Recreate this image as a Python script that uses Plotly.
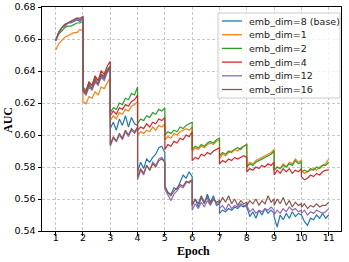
import plotly.graph_objects as go

epochs = list(range(1, 11))
steps_per_epoch = 10
tick_labels = [str(i) for i in range(1, 12)]

names = ["emb_dim=8 (base)", "emb_dim=1", "emb_dim=2", "emb_dim=4", "emb_dim=12", "emb_dim=16"]
colors = ["#1f77b4", "#ff7f0e", "#2ca02c", "#d62728", "#9467bd", "#8c564b"]

auc_base = [
    0.659, 0.664, 0.667, 0.668, 0.670, 0.670, 0.671, 0.672, 0.671, 0.673,
    0.628, 0.625, 0.631, 0.629, 0.634, 0.632, 0.637, 0.635, 0.640, 0.642,
    0.604, 0.608, 0.603, 0.610, 0.606, 0.612, 0.605, 0.611, 0.607, 0.606,
    0.577, 0.583, 0.579, 0.585, 0.583, 0.586, 0.588, 0.592, 0.593, 0.589,
    0.568, 0.564, 0.563, 0.567, 0.566, 0.571, 0.575, 0.573, 0.577, 0.574,
    0.556, 0.560, 0.555, 0.561, 0.557, 0.563, 0.558, 0.562, 0.556, 0.557,
    0.551, 0.553, 0.552, 0.554, 0.553, 0.555, 0.554, 0.556, 0.555, 0.557,
    0.555, 0.549, 0.552, 0.548, 0.553, 0.550, 0.554, 0.551, 0.553, 0.551,
    0.549, 0.5425, 0.550, 0.547, 0.551, 0.548, 0.552, 0.549, 0.551, 0.550,
    0.550, 0.546, 0.5435, 0.548, 0.547, 0.550, 0.548, 0.551, 0.548, 0.550,
]
auc_dim1 = [
    0.653, 0.657, 0.659, 0.661, 0.662, 0.663, 0.664, 0.664, 0.666, 0.665,
    0.621, 0.6195, 0.624, 0.623, 0.627, 0.625, 0.630, 0.629, 0.633, 0.636,
    0.609, 0.612, 0.610, 0.614, 0.613, 0.616, 0.615, 0.618, 0.619, 0.621,
    0.600, 0.602, 0.601, 0.603, 0.602, 0.605, 0.603, 0.606, 0.605, 0.607,
    0.597, 0.599, 0.598, 0.601, 0.600, 0.602, 0.603, 0.604, 0.603, 0.605,
    0.590, 0.592, 0.591, 0.593, 0.592, 0.594, 0.595, 0.594, 0.596, 0.597,
    0.585, 0.588, 0.587, 0.589, 0.590, 0.591, 0.590, 0.592, 0.593, 0.594,
    0.580, 0.583, 0.582, 0.584, 0.585, 0.586, 0.587, 0.588, 0.589, 0.591,
    0.578, 0.580, 0.579, 0.582, 0.580, 0.583, 0.582, 0.585, 0.583, 0.584,
    0.578, 0.576, 0.577, 0.578, 0.579, 0.578, 0.580, 0.581, 0.582, 0.585,
]
auc_dim2 = [
    0.659, 0.663, 0.665, 0.667, 0.668, 0.668, 0.669, 0.670, 0.670, 0.671,
    0.630, 0.628, 0.633, 0.631, 0.636, 0.634, 0.638, 0.637, 0.641, 0.643,
    0.614, 0.617, 0.616, 0.620, 0.619, 0.623, 0.622, 0.626, 0.625, 0.630,
    0.607, 0.610, 0.609, 0.612, 0.611, 0.614, 0.613, 0.616, 0.615, 0.617,
    0.600, 0.602, 0.601, 0.603, 0.602, 0.605, 0.604, 0.606, 0.607, 0.608,
    0.591, 0.593, 0.592, 0.594, 0.593, 0.595, 0.596, 0.595, 0.597, 0.598,
    0.587, 0.589, 0.588, 0.590, 0.589, 0.591, 0.592, 0.591, 0.593, 0.594,
    0.580, 0.582, 0.581, 0.583, 0.584, 0.585, 0.586, 0.587, 0.588, 0.590,
    0.578, 0.580, 0.579, 0.581, 0.580, 0.582, 0.581, 0.584, 0.582, 0.583,
    0.577, 0.578, 0.577, 0.579, 0.578, 0.580, 0.579, 0.581, 0.581, 0.583,
]
auc_dim4 = [
    0.659, 0.664, 0.667, 0.669, 0.670, 0.671, 0.672, 0.673, 0.672, 0.674,
    0.629, 0.627, 0.633, 0.631, 0.637, 0.634, 0.640, 0.638, 0.643, 0.646,
    0.612, 0.615, 0.613, 0.617, 0.616, 0.619, 0.618, 0.621, 0.622, 0.625,
    0.603, 0.605, 0.604, 0.607, 0.605, 0.608, 0.607, 0.610, 0.609, 0.611,
    0.591, 0.594, 0.593, 0.596, 0.595, 0.598, 0.597, 0.600, 0.599, 0.602,
    0.584, 0.586, 0.585, 0.588, 0.587, 0.589, 0.588, 0.590, 0.591, 0.592,
    0.582, 0.584, 0.583, 0.585, 0.584, 0.586, 0.585, 0.586, 0.587, 0.586,
    0.577, 0.579, 0.578, 0.580, 0.579, 0.581, 0.580, 0.582, 0.581, 0.583,
    0.575, 0.578, 0.576, 0.579, 0.577, 0.579, 0.576, 0.578, 0.577, 0.579,
    0.574, 0.572, 0.573, 0.575, 0.574, 0.576, 0.575, 0.577, 0.578, 0.578,
]
auc_dim12 = [
    0.659, 0.664, 0.667, 0.668, 0.670, 0.671, 0.671, 0.672, 0.672, 0.673,
    0.627, 0.625, 0.630, 0.628, 0.633, 0.631, 0.636, 0.634, 0.639, 0.641,
    0.593, 0.598, 0.596, 0.600, 0.597, 0.602, 0.599, 0.603, 0.601, 0.604,
    0.572, 0.578, 0.575, 0.581, 0.578, 0.583, 0.581, 0.585, 0.586, 0.583,
    0.566, 0.562, 0.559, 0.563, 0.565, 0.568, 0.567, 0.570, 0.571, 0.572,
    0.553, 0.557, 0.554, 0.558, 0.555, 0.559, 0.556, 0.560, 0.557, 0.558,
    0.554, 0.556, 0.553, 0.557, 0.554, 0.556, 0.555, 0.557, 0.556, 0.555,
    0.556, 0.552, 0.554, 0.551, 0.553, 0.552, 0.554, 0.553, 0.555, 0.553,
    0.550, 0.553, 0.551, 0.554, 0.552, 0.555, 0.553, 0.554, 0.552, 0.553,
    0.551, 0.553, 0.550, 0.552, 0.551, 0.553, 0.552, 0.551, 0.552, 0.554,
]
auc_dim16 = [
    0.659, 0.664, 0.667, 0.669, 0.670, 0.671, 0.672, 0.673, 0.673, 0.674,
    0.628, 0.626, 0.632, 0.629, 0.635, 0.632, 0.638, 0.636, 0.640, 0.643,
    0.594, 0.599, 0.596, 0.601, 0.598, 0.603, 0.600, 0.604, 0.602, 0.605,
    0.574, 0.579, 0.576, 0.581, 0.578, 0.582, 0.580, 0.584, 0.585, 0.583,
    0.568, 0.564, 0.562, 0.565, 0.567, 0.569, 0.568, 0.571, 0.570, 0.572,
    0.556, 0.560, 0.557, 0.562, 0.558, 0.561, 0.557, 0.560, 0.558, 0.559,
    0.557, 0.561, 0.558, 0.562, 0.557, 0.560, 0.556, 0.559, 0.557, 0.558,
    0.556, 0.559, 0.557, 0.560, 0.556, 0.559, 0.557, 0.562, 0.558, 0.560,
    0.556, 0.560, 0.557, 0.561, 0.556, 0.559, 0.555, 0.558, 0.556, 0.557,
    0.555, 0.557, 0.554, 0.556, 0.555, 0.557, 0.555, 0.556, 0.556, 0.558,
]

series = [auc_base, auc_dim1, auc_dim2, auc_dim4, auc_dim12, auc_dim16]

# x positions: each epoch's steps spread from epoch start to epoch end
x = [e + j / (steps_per_epoch - 1) for e in epochs for j in range(steps_per_epoch)]

W, H = 349, 262
ML, MR, MT, MB = 42, 8, 7, 31
PW, PH = W - ML - MR, H - MT - MB


def px_x(p):
    return (p - ML) / PW


def px_y(p):
    return (H - MB - p) / PH


fig = go.Figure()
for name, color, vals in zip(names, colors, series):
    fig.add_trace(go.Scatter(x=x, y=vals, mode="lines", name=name,
                             line=dict(color=color, width=1.2), showlegend=False))

# legend box drawn like matplotlib's (compact rows)
fig.add_shape(type="rect", xref="paper", yref="paper",
              x0=px_x(218), x1=px_x(340), y0=px_y(98), y1=px_y(13),
              line=dict(color="#cccccc", width=1), fillcolor="rgba(255,255,255,0.8)",
              layer="above")
row0, row_gap = 21, 13.7
for i, (name, color) in enumerate(zip(names, colors)):
    yy = px_y(row0 + i * row_gap)
    fig.add_shape(type="line", xref="paper", yref="paper",
                  x0=px_x(222), x1=px_x(242), y0=yy, y1=yy,
                  line=dict(color=color, width=1.3), layer="above")
    fig.add_annotation(xref="paper", yref="paper", x=px_x(247), y=yy,
                       text=name, showarrow=False, xanchor="left", yanchor="middle",
                       font=dict(family="DejaVu Sans", size=9.5, color="#222222"))

tick_font = dict(family="DejaVu Sans", size=9.5, color="black")
title_font = dict(family="Liberation Serif", size=12, color="black", weight="bold")

fig.add_annotation(xref="paper", yref="paper", x=px_x(8), y=px_y(120), text="AUC",
                   textangle=-90, showarrow=False, xanchor="center", yanchor="middle",
                   font=title_font)
fig.add_annotation(xref="paper", yref="paper", x=px_x(193), y=px_y(251), text="Epoch",
                   showarrow=False, xanchor="center", yanchor="middle",
                   font=title_font)

fig.update_layout(
    width=W, height=H,
    margin=dict(l=ML, r=MR, t=MT, b=MB, autoexpand=False),
    paper_bgcolor="white", plot_bgcolor="white",
    showlegend=False,
)
fig.update_xaxes(
    range=[0.5, 11.45], tickvals=list(range(1, 12)), ticktext=tick_labels,
    showline=True, mirror=True, linecolor="black", linewidth=1,
    ticks="outside", ticklen=3.5, tickcolor="black", tickfont=tick_font,
    ticklabelstandoff=-6,
    showgrid=True, gridcolor="#c8c8c8", gridwidth=0.8, griddash="3px,2px",
    zeroline=False, automargin=False,
)
fig.update_yaxes(
    range=[0.54, 0.68], dtick=0.02, tickformat=".2f",
    showline=True, mirror=True, linecolor="black", linewidth=1,
    ticks="outside", ticklen=3.5, tickcolor="black", tickfont=tick_font,
    showgrid=True, gridcolor="#c8c8c8", gridwidth=0.8, griddash="3px,2px",
    zeroline=False, automargin=False,
)

fig.write_html("out.html", config={"displayModeBar": False},
               post_script="document.body.style.margin='0';")
